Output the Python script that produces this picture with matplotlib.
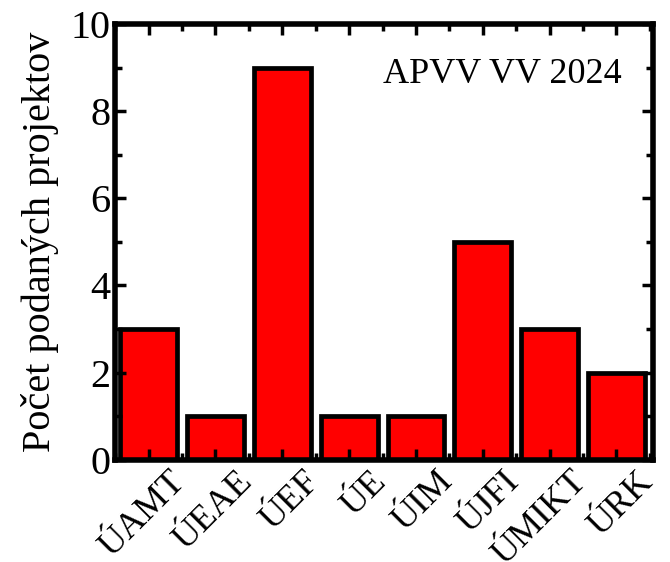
import matplotlib
matplotlib.use("Agg")
import matplotlib.pyplot as plt
import matplotlib.transforms as mtransforms
from matplotlib.ticker import MultipleLocator

categories = ["ÚAMT", "ÚEAE", "ÚEF", "ÚE", "ÚIM", "ÚJFI", "ÚMIKT", "ÚRK"]
counts = [3, 1, 9, 1, 1, 5, 3, 2]
ylabel = "Počet podaných projektov"
label = "APVV VV 2024"

FONT = ["Liberation Serif", "DejaVu Serif"]
plt.rcParams["font.family"] = FONT
plt.rcParams["mathtext.fontset"] = "stix"

fig = plt.figure(figsize=(6.7, 5.62), dpi=100)
ax = fig.add_axes([0.172, 0.182, 0.803, 0.775])

x = list(range(len(categories)))
ax.bar(x, counts, width=0.85, color="#ff0000", edgecolor="black", linewidth=3.4)

ax.set_xlim(-0.5, 7.55)
ax.set_ylim(0, 10)
ax.xaxis.set_minor_locator(MultipleLocator(0.5))
ax.yaxis.set_major_locator(MultipleLocator(2))
ax.yaxis.set_minor_locator(MultipleLocator(1))
ax.tick_params(which="both", direction="in", top=True, right=True, width=2.5)
ax.tick_params(which="major", length=8)
ax.tick_params(which="minor", length=5)
ax.tick_params(axis="x", pad=4)

ax.set_xticks(x)
ax.set_xticklabels(categories, rotation=45, ha="right", rotation_mode="anchor",
                   fontsize=26, family=FONT)
ax.set_yticks([0, 2, 4, 6, 8, 10])
ax.set_yticklabels(["0", "2", "4", "6", "8", "10"], fontsize=29, family=FONT)

# labels sit a bit right of the tick in the original
shift = mtransforms.ScaledTranslation(0.2, 0.0, fig.dpi_scale_trans)
for t in ax.get_xticklabels():
    t.set_transform(t.get_transform() + shift)

for s in ax.spines.values():
    s.set_linewidth(4)

ax.set_ylabel(ylabel, fontsize=29, labelpad=8, family=FONT)
ax.text(0.942, 0.885, label, transform=ax.transAxes, ha="right", va="center",
        fontsize=26, family=FONT)

fig.savefig("out.png", dpi=100)
